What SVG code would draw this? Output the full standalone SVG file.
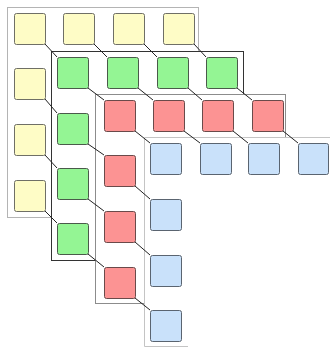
<svg xmlns="http://www.w3.org/2000/svg" width="330" height="347" viewBox="0 0 330 347">
<style>
.frame{fill:#fff;stroke:none}
.fy{fill:none;stroke:#b4b4b4;stroke-width:1}
.fg{fill:none;stroke:#333;stroke-width:1}
.fr{fill:none;stroke:#8c8c8c;stroke-width:1}
.fb{fill:none;stroke:#c4c4c4;stroke-width:1}
.y{fill:#fefcc6;stroke:#6f6f66;stroke-width:1}
.g{fill:#94f594;stroke:#4a5a4a;stroke-width:1}
.r{fill:#fc9393;stroke:#6a4a4a;stroke-width:1}
.b{fill:#c9e1fa;stroke:#5a6470;stroke-width:1}
.c{stroke:#222;stroke-width:1;fill:none}
</style>
<rect width="330" height="347" fill="#fff"/>
<g id="frame-yellow"><rect class="frame" x="7.5" y="7.5" width="191" height="210"/><rect class="fy" x="7.5" y="7.5" width="191" height="210"/></g>
<g id="frame-green"><rect class="frame" x="51.5" y="51.5" width="192" height="209"/><rect class="fg" x="51.5" y="51.5" width="192" height="209"/></g>
<g id="frame-red"><rect class="frame" x="95.5" y="94.5" width="190" height="209"/><rect class="fr" x="95.5" y="94.5" width="190" height="209"/></g>
<g id="frame-blue"><rect class="frame" x="144.5" y="137.5" width="190" height="209"/><path class="fb" d="M330,137.5H144.5V346.5H188"/></g>
<g id="connectors">
<path class="c" d="M45,44L57,57M94,44L107,57M144,44L157,57M194,44L206,57M45,99L57,113M45,155L57,168M45,211L57,223"/>
<path class="c" d="M88,88L104,100M138,88L153,100M188,88L202,100M237,88L252,100M88,144L104,155M88,199L104,211M88,254L104,267"/>
<path class="c" d="M135,131L150,143M184,131L200,143M233,131L248,143M283,131L298,143M135,186L150,199M135,242L150,255M135,298L150,310"/>
</g>
<g id="yellow">
<rect id="y1" class="y" x="14.5" y="13.5" width="31" height="31" rx="2"/>
<rect id="y2" class="y" x="63.5" y="13.5" width="31" height="31" rx="2"/>
<rect id="y3" class="y" x="113.5" y="13.5" width="31" height="31" rx="2"/>
<rect id="y4" class="y" x="163.5" y="13.5" width="31" height="31" rx="2"/>
<rect id="y5" class="y" x="14.5" y="68.5" width="31" height="31" rx="2"/>
<rect id="y6" class="y" x="14.5" y="124.5" width="31" height="31" rx="2"/>
<rect id="y7" class="y" x="14.5" y="180.5" width="31" height="31" rx="2"/>
</g>
<g id="green">
<rect id="g1" class="g" x="57.5" y="57.5" width="31" height="31" rx="2"/>
<rect id="g2" class="g" x="107.5" y="57.5" width="31" height="31" rx="2"/>
<rect id="g3" class="g" x="157.5" y="57.5" width="31" height="31" rx="2"/>
<rect id="g4" class="g" x="206.5" y="57.5" width="31" height="31" rx="2"/>
<rect id="g5" class="g" x="57.5" y="113.5" width="31" height="31" rx="2"/>
<rect id="g6" class="g" x="57.5" y="168.5" width="31" height="31" rx="2"/>
<rect id="g7" class="g" x="57.5" y="223.5" width="31" height="31" rx="2"/>
</g>
<g id="red">
<rect id="r1" class="r" x="104.5" y="100.5" width="31" height="31" rx="2"/>
<rect id="r2" class="r" x="153.5" y="100.5" width="31" height="31" rx="2"/>
<rect id="r3" class="r" x="202.5" y="100.5" width="31" height="31" rx="2"/>
<rect id="r4" class="r" x="252.5" y="100.5" width="31" height="31" rx="2"/>
<rect id="r5" class="r" x="104.5" y="155.5" width="31" height="31" rx="2"/>
<rect id="r6" class="r" x="104.5" y="211.5" width="31" height="31" rx="2"/>
<rect id="r7" class="r" x="104.5" y="267.5" width="31" height="31" rx="2"/>
</g>
<g id="blue">
<rect id="b1" class="b" x="150.5" y="143.5" width="31" height="31" rx="2"/>
<rect id="b2" class="b" x="200.5" y="143.5" width="31" height="31" rx="2"/>
<rect id="b3" class="b" x="248.5" y="143.5" width="31" height="31" rx="2"/>
<rect id="b4" class="b" x="298.5" y="143.5" width="30" height="31" rx="2"/>
<rect id="b5" class="b" x="150.5" y="199.5" width="31" height="31" rx="2"/>
<rect id="b6" class="b" x="150.5" y="255.5" width="31" height="31" rx="2"/>
<rect id="b7" class="b" x="150.5" y="310.5" width="31" height="31" rx="2"/>
</g>
</svg>
